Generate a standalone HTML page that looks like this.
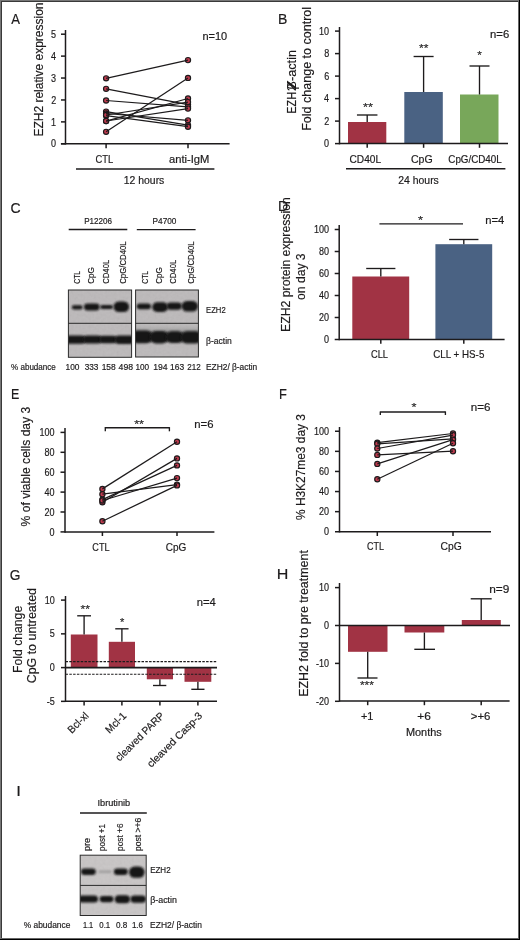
<!DOCTYPE html>
<html><head><meta charset="utf-8"><style>
html,body{margin:0;padding:0;background:#fff;}
svg{display:block;will-change:transform;}
text{font-family:"Liberation Sans",sans-serif;stroke:#1d1b1c;stroke-width:0.18px;}
</style></head>
<body>
<svg width="520" height="940" viewBox="0 0 520 940">
<defs>
<filter id="bl" x="-30%" y="-60%" width="160%" height="220%"><feGaussianBlur stdDeviation="0.85"/></filter>
<linearGradient id="smear" x1="0" y1="0" x2="0" y2="1"><stop offset="0" stop-color="#c6c6c6" stop-opacity="0"/><stop offset="1" stop-color="#777" stop-opacity="0.8"/></linearGradient>
<filter id="nz" x="0" y="0" width="100%" height="100%"><feTurbulence type="fractalNoise" baseFrequency="0.35" numOctaves="2" seed="3"/><feColorMatrix type="saturate" values="0"/></filter>
<pattern id="noise" width="520" height="940" patternUnits="userSpaceOnUse"><rect width="520" height="940" filter="url(#nz)"/></pattern>
</defs>
<rect width="520" height="940" fill="#fff"/>
<text transform="translate(11.30,23.50) scale(0.8440,1)" font-size="15.5" fill="#1d1b1c" >A</text>
<text transform="translate(42.60,136.56) rotate(-90) scale(0.9036,1)" font-size="13.3" fill="#1d1b1c" >EZH2 relative expression</text>
<line x1="65.50" y1="30.00" x2="65.50" y2="144.55" stroke="#1d1b1c" stroke-width="1.5" />
<line x1="61.00" y1="143.80" x2="65.50" y2="143.80" stroke="#1d1b1c" stroke-width="1.5" />
<text transform="translate(51.00,147.48) scale(0.8600,1)" font-size="10.5" fill="#1d1b1c" >0</text>
<line x1="61.00" y1="121.88" x2="65.50" y2="121.88" stroke="#1d1b1c" stroke-width="1.5" />
<text transform="translate(51.09,125.50) scale(0.8600,1)" font-size="10.5" fill="#1d1b1c" >1</text>
<line x1="61.00" y1="99.96" x2="65.50" y2="99.96" stroke="#1d1b1c" stroke-width="1.5" />
<text transform="translate(51.14,103.64) scale(0.8600,1)" font-size="10.5" fill="#1d1b1c" >2</text>
<line x1="61.00" y1="78.04" x2="65.50" y2="78.04" stroke="#1d1b1c" stroke-width="1.5" />
<text transform="translate(51.05,81.72) scale(0.8600,1)" font-size="10.5" fill="#1d1b1c" >3</text>
<line x1="61.00" y1="56.12" x2="65.50" y2="56.12" stroke="#1d1b1c" stroke-width="1.5" />
<text transform="translate(50.96,59.74) scale(0.8600,1)" font-size="10.5" fill="#1d1b1c" >4</text>
<line x1="61.00" y1="34.20" x2="65.50" y2="34.20" stroke="#1d1b1c" stroke-width="1.5" />
<text transform="translate(51.05,37.82) scale(0.8600,1)" font-size="10.5" fill="#1d1b1c" >5</text>
<line x1="60.90" y1="143.80" x2="229.60" y2="143.80" stroke="#1d1b1c" stroke-width="1.5" />
<line x1="106.10" y1="143.80" x2="106.10" y2="148.20" stroke="#1d1b1c" stroke-width="1.5" />
<line x1="188.00" y1="143.80" x2="188.00" y2="148.20" stroke="#1d1b1c" stroke-width="1.5" />
<circle cx="106.10" cy="78.30" r="2.6" fill="#bf3a4e" stroke="#1d1b1c" stroke-width="1.15"/>
<circle cx="188.00" cy="60.10" r="2.6" fill="#bf3a4e" stroke="#1d1b1c" stroke-width="1.15"/>
<circle cx="106.10" cy="131.80" r="2.6" fill="#bf3a4e" stroke="#1d1b1c" stroke-width="1.15"/>
<circle cx="188.00" cy="77.90" r="2.6" fill="#bf3a4e" stroke="#1d1b1c" stroke-width="1.15"/>
<circle cx="106.10" cy="88.80" r="2.6" fill="#bf3a4e" stroke="#1d1b1c" stroke-width="1.15"/>
<circle cx="188.00" cy="104.60" r="2.6" fill="#bf3a4e" stroke="#1d1b1c" stroke-width="1.15"/>
<circle cx="106.10" cy="100.50" r="2.6" fill="#bf3a4e" stroke="#1d1b1c" stroke-width="1.15"/>
<circle cx="188.00" cy="106.80" r="2.6" fill="#bf3a4e" stroke="#1d1b1c" stroke-width="1.15"/>
<circle cx="106.10" cy="121.10" r="2.6" fill="#bf3a4e" stroke="#1d1b1c" stroke-width="1.15"/>
<circle cx="188.00" cy="98.50" r="2.6" fill="#bf3a4e" stroke="#1d1b1c" stroke-width="1.15"/>
<circle cx="106.10" cy="111.60" r="2.6" fill="#bf3a4e" stroke="#1d1b1c" stroke-width="1.15"/>
<circle cx="188.00" cy="125.10" r="2.6" fill="#bf3a4e" stroke="#1d1b1c" stroke-width="1.15"/>
<circle cx="106.10" cy="115.60" r="2.6" fill="#bf3a4e" stroke="#1d1b1c" stroke-width="1.15"/>
<circle cx="188.00" cy="126.70" r="2.6" fill="#bf3a4e" stroke="#1d1b1c" stroke-width="1.15"/>
<circle cx="106.10" cy="113.50" r="2.6" fill="#bf3a4e" stroke="#1d1b1c" stroke-width="1.15"/>
<circle cx="188.00" cy="120.30" r="2.6" fill="#bf3a4e" stroke="#1d1b1c" stroke-width="1.15"/>
<circle cx="106.10" cy="115.00" r="2.6" fill="#bf3a4e" stroke="#1d1b1c" stroke-width="1.15"/>
<circle cx="188.00" cy="102.10" r="2.6" fill="#bf3a4e" stroke="#1d1b1c" stroke-width="1.15"/>
<circle cx="106.10" cy="121.00" r="2.6" fill="#bf3a4e" stroke="#1d1b1c" stroke-width="1.15"/>
<circle cx="188.00" cy="108.60" r="2.6" fill="#bf3a4e" stroke="#1d1b1c" stroke-width="1.15"/>
<line x1="106.10" y1="78.30" x2="188.00" y2="60.10" stroke="#1d1b1c" stroke-width="1.25" />
<line x1="106.10" y1="131.80" x2="188.00" y2="77.90" stroke="#1d1b1c" stroke-width="1.25" />
<line x1="106.10" y1="88.80" x2="188.00" y2="104.60" stroke="#1d1b1c" stroke-width="1.25" />
<line x1="106.10" y1="100.50" x2="188.00" y2="106.80" stroke="#1d1b1c" stroke-width="1.25" />
<line x1="106.10" y1="121.10" x2="188.00" y2="98.50" stroke="#1d1b1c" stroke-width="1.25" />
<line x1="106.10" y1="111.60" x2="188.00" y2="125.10" stroke="#1d1b1c" stroke-width="1.25" />
<line x1="106.10" y1="115.60" x2="188.00" y2="126.70" stroke="#1d1b1c" stroke-width="1.25" />
<line x1="106.10" y1="113.50" x2="188.00" y2="120.30" stroke="#1d1b1c" stroke-width="1.25" />
<line x1="106.10" y1="115.00" x2="188.00" y2="102.10" stroke="#1d1b1c" stroke-width="1.25" />
<line x1="106.10" y1="121.00" x2="188.00" y2="108.60" stroke="#1d1b1c" stroke-width="1.25" />
<text transform="translate(202.39,39.60) scale(1.0762,1)" font-size="10.2" fill="#1d1b1c" >n=10</text>
<text transform="translate(95.43,162.80) scale(0.9208,1)" font-size="10.2" fill="#1d1b1c" >CTL</text>
<text transform="translate(168.95,162.80) scale(1.0984,1)" font-size="10.2" fill="#1d1b1c" >anti-IgM</text>
<line x1="76.00" y1="169.00" x2="214.40" y2="169.00" stroke="#1d1b1c" stroke-width="1.5" />
<text transform="translate(123.72,183.80) scale(1.0245,1)" font-size="10.2" fill="#1d1b1c" >12 hours</text>
<text transform="translate(278.08,23.50) scale(0.9044,1)" font-size="15.5" fill="#1d1b1c" >B</text>
<g>
<text transform="translate(296.00,113.67) rotate(-90) scale(0.8319,1)" font-size="13.0" fill="#1d1b1c" >EZH</text>
<text transform="translate(296.00,91.13) rotate(-90) scale(1.1158,1)" font-size="13.0" fill="#1d1b1c" style="stroke-width:0">2</text>
<text transform="translate(296.00,89.65) rotate(-90) scale(1.1580,1)" font-size="13.0" fill="#1d1b1c" style="stroke-width:0">β</text>
<text transform="translate(296.00,89.40) rotate(-90) scale(2.5000,1)" font-size="13.0" fill="#1d1b1c" style="stroke-width:0">/</text>
<text transform="translate(296.00,81.07) rotate(-90) scale(0.9784,1)" font-size="13.0" fill="#1d1b1c" >-actin</text>
</g>
<text transform="translate(310.90,130.80) rotate(-90) scale(0.9276,1)" font-size="13.5" fill="#1d1b1c" >Fold change to control</text>
<line x1="339.50" y1="27.00" x2="339.50" y2="144.35" stroke="#1d1b1c" stroke-width="1.5" />
<line x1="335.00" y1="143.60" x2="339.50" y2="143.60" stroke="#1d1b1c" stroke-width="1.5" />
<text transform="translate(324.10,147.28) scale(0.8600,1)" font-size="10.5" fill="#1d1b1c" >0</text>
<line x1="335.00" y1="121.10" x2="339.50" y2="121.10" stroke="#1d1b1c" stroke-width="1.5" />
<text transform="translate(324.24,124.77) scale(0.8600,1)" font-size="10.5" fill="#1d1b1c" >2</text>
<line x1="335.00" y1="98.60" x2="339.50" y2="98.60" stroke="#1d1b1c" stroke-width="1.5" />
<text transform="translate(324.06,102.22) scale(0.8600,1)" font-size="10.5" fill="#1d1b1c" >4</text>
<line x1="335.00" y1="76.10" x2="339.50" y2="76.10" stroke="#1d1b1c" stroke-width="1.5" />
<text transform="translate(324.15,79.77) scale(0.8600,1)" font-size="10.5" fill="#1d1b1c" >6</text>
<line x1="335.00" y1="53.60" x2="339.50" y2="53.60" stroke="#1d1b1c" stroke-width="1.5" />
<text transform="translate(324.15,57.27) scale(0.8600,1)" font-size="10.5" fill="#1d1b1c" >8</text>
<line x1="335.00" y1="31.10" x2="339.50" y2="31.10" stroke="#1d1b1c" stroke-width="1.5" />
<text transform="translate(319.09,34.77) scale(0.8600,1)" font-size="10.5" fill="#1d1b1c" >10</text>
<rect x="348.00" y="122.00" width="38.30" height="21.60" fill="#a13344"/>
<rect x="404.30" y="92.00" width="38.50" height="51.60" fill="#4a6283"/>
<rect x="460.00" y="94.50" width="38.50" height="49.10" fill="#78a75a"/>
<line x1="367.20" y1="122.00" x2="367.20" y2="115.00" stroke="#1d1b1c" stroke-width="1.35" />
<line x1="356.95" y1="115.00" x2="377.45" y2="115.00" stroke="#1d1b1c" stroke-width="1.35" />
<line x1="423.60" y1="92.00" x2="423.60" y2="56.50" stroke="#1d1b1c" stroke-width="1.35" />
<line x1="413.60" y1="56.50" x2="433.60" y2="56.50" stroke="#1d1b1c" stroke-width="1.35" />
<line x1="479.50" y1="94.50" x2="479.50" y2="66.00" stroke="#1d1b1c" stroke-width="1.35" />
<line x1="469.50" y1="66.00" x2="489.50" y2="66.00" stroke="#1d1b1c" stroke-width="1.35" />
<line x1="339.50" y1="143.60" x2="508.00" y2="143.60" stroke="#1d1b1c" stroke-width="1.5" />
<line x1="367.20" y1="143.60" x2="367.20" y2="147.80" stroke="#1d1b1c" stroke-width="1.5" />
<line x1="423.60" y1="143.60" x2="423.60" y2="147.80" stroke="#1d1b1c" stroke-width="1.5" />
<line x1="479.50" y1="143.60" x2="479.50" y2="147.80" stroke="#1d1b1c" stroke-width="1.5" />
<text transform="translate(362.96,110.65) scale(1.2667,1)" font-size="10" fill="#333" stroke="#333">**</text>
<text transform="translate(419.02,52.05) scale(1.2000,1)" font-size="10" fill="#333" stroke="#333">**</text>
<text transform="translate(477.32,59.35) scale(1.1667,1)" font-size="10" fill="#333" stroke="#333">*</text>
<text transform="translate(490.06,37.50) scale(1.1099,1)" font-size="10.2" fill="#1d1b1c" >n=6</text>
<text transform="translate(349.49,162.50) scale(0.9966,1)" font-size="10.2" fill="#1d1b1c" >CD40L</text>
<text transform="translate(410.97,162.50) scale(1.0387,1)" font-size="10.2" fill="#1d1b1c" >CpG</text>
<text transform="translate(448.31,162.50) scale(0.9630,1)" font-size="10.2" fill="#1d1b1c" >CpG/CD40L</text>
<line x1="346.00" y1="168.80" x2="505.40" y2="168.80" stroke="#1d1b1c" stroke-width="1.5" />
<text transform="translate(398.28,183.80) scale(1.0229,1)" font-size="10.2" fill="#1d1b1c" >24 hours</text>
<text transform="translate(10.60,213.00) scale(0.9042,1)" font-size="15.5" fill="#1d1b1c" >C</text>
<text transform="translate(84.15,224.00) scale(0.8989,1)" font-size="9.0" fill="#1d1b1c" >P12206</text>
<line x1="68.70" y1="229.50" x2="127.30" y2="229.50" stroke="#1d1b1c" stroke-width="1.35" />
<text transform="translate(152.54,224.00) scale(0.9209,1)" font-size="9.0" fill="#1d1b1c" >P4700</text>
<line x1="136.80" y1="229.60" x2="195.60" y2="229.60" stroke="#1d1b1c" stroke-width="1.35" />
<text transform="translate(79.90,283.74) rotate(-90) scale(0.7722,1)" font-size="8.8" fill="#1d1b1c" >CTL</text>
<text transform="translate(93.80,283.80) rotate(-90) scale(0.9161,1)" font-size="8.8" fill="#1d1b1c" >CpG</text>
<text transform="translate(109.20,283.79) rotate(-90) scale(0.8776,1)" font-size="8.8" fill="#1d1b1c" >CD40L</text>
<text transform="translate(125.50,283.79) rotate(-90) scale(0.8875,1)" font-size="8.8" fill="#1d1b1c" >CpG/CD40L</text>
<text transform="translate(147.90,283.74) rotate(-90) scale(0.7722,1)" font-size="8.8" fill="#1d1b1c" >CTL</text>
<text transform="translate(161.50,283.80) rotate(-90) scale(0.9161,1)" font-size="8.8" fill="#1d1b1c" >CpG</text>
<text transform="translate(176.20,283.79) rotate(-90) scale(0.8776,1)" font-size="8.8" fill="#1d1b1c" >CD40L</text>
<text transform="translate(193.50,283.79) rotate(-90) scale(0.8875,1)" font-size="8.8" fill="#1d1b1c" >CpG/CD40L</text>
<text transform="translate(206.09,313.10) scale(0.8919,1)" font-size="8.6" fill="#1d1b1c" >EZH2</text>
<text transform="translate(206.10,343.60) scale(0.9915,1)" font-size="8.6" fill="#1d1b1c" >β-actin</text>
<text transform="translate(11.02,369.80) scale(0.9379,1)" font-size="8.6" fill="#1d1b1c" >% abudance</text>
<text transform="translate(65.57,370.10) scale(0.9721,1)" font-size="8.6" fill="#1d1b1c" >100</text>
<text transform="translate(84.67,370.10) scale(0.9610,1)" font-size="8.6" fill="#1d1b1c" >333</text>
<text transform="translate(101.67,370.10) scale(0.9827,1)" font-size="8.6" fill="#1d1b1c" >158</text>
<text transform="translate(118.53,370.10) scale(1.0143,1)" font-size="8.6" fill="#1d1b1c" >498</text>
<text transform="translate(135.38,370.10) scale(0.9572,1)" font-size="8.6" fill="#1d1b1c" >100</text>
<text transform="translate(153.15,370.10) scale(1.0063,1)" font-size="8.6" fill="#1d1b1c" >194</text>
<text transform="translate(170.07,370.10) scale(0.9827,1)" font-size="8.6" fill="#1d1b1c" >163</text>
<text transform="translate(187.30,370.10) scale(0.9362,1)" font-size="8.6" fill="#1d1b1c" >212</text>
<text transform="translate(206.03,370.10) scale(0.9734,1)" font-size="8.6" fill="#1d1b1c" >EZH2/ β-actin</text>
<text transform="translate(277.88,211.20) scale(0.9000,1)" font-size="15.5" fill="#1d1b1c" >D</text>
<text transform="translate(289.90,331.88) rotate(-90) scale(0.9133,1)" font-size="13.4" fill="#1d1b1c" >EZH2 protein expression</text>
<text transform="translate(304.60,299.99) rotate(-90) scale(0.9082,1)" font-size="13.4" fill="#1d1b1c" >on day 3</text>
<line x1="339.20" y1="225.00" x2="339.20" y2="340.25" stroke="#1d1b1c" stroke-width="1.5" />
<line x1="334.70" y1="339.50" x2="339.20" y2="339.50" stroke="#1d1b1c" stroke-width="1.5" />
<text transform="translate(324.00,343.18) scale(0.8600,1)" font-size="10.5" fill="#1d1b1c" >0</text>
<line x1="334.70" y1="317.50" x2="339.20" y2="317.50" stroke="#1d1b1c" stroke-width="1.5" />
<text transform="translate(318.99,321.18) scale(0.8600,1)" font-size="10.5" fill="#1d1b1c" >20</text>
<line x1="334.70" y1="295.50" x2="339.20" y2="295.50" stroke="#1d1b1c" stroke-width="1.5" />
<text transform="translate(318.99,299.18) scale(0.8600,1)" font-size="10.5" fill="#1d1b1c" >40</text>
<line x1="334.70" y1="273.50" x2="339.20" y2="273.50" stroke="#1d1b1c" stroke-width="1.5" />
<text transform="translate(318.99,277.18) scale(0.8600,1)" font-size="10.5" fill="#1d1b1c" >60</text>
<line x1="334.70" y1="251.50" x2="339.20" y2="251.50" stroke="#1d1b1c" stroke-width="1.5" />
<text transform="translate(318.99,255.18) scale(0.8600,1)" font-size="10.5" fill="#1d1b1c" >80</text>
<line x1="334.70" y1="229.50" x2="339.20" y2="229.50" stroke="#1d1b1c" stroke-width="1.5" />
<text transform="translate(313.98,233.18) scale(0.8600,1)" font-size="10.5" fill="#1d1b1c" >100</text>
<rect x="352.30" y="276.50" width="56.90" height="63.00" fill="#a13344"/>
<rect x="435.40" y="244.20" width="56.80" height="95.30" fill="#4a6283"/>
<line x1="380.80" y1="276.50" x2="380.80" y2="268.50" stroke="#1d1b1c" stroke-width="1.35" />
<line x1="366.20" y1="268.50" x2="395.40" y2="268.50" stroke="#1d1b1c" stroke-width="1.35" />
<line x1="463.80" y1="244.20" x2="463.80" y2="239.50" stroke="#1d1b1c" stroke-width="1.35" />
<line x1="449.15" y1="239.50" x2="478.45" y2="239.50" stroke="#1d1b1c" stroke-width="1.35" />
<line x1="339.20" y1="339.50" x2="504.60" y2="339.50" stroke="#1d1b1c" stroke-width="1.5" />
<line x1="380.80" y1="339.50" x2="380.80" y2="343.80" stroke="#1d1b1c" stroke-width="1.5" />
<line x1="463.80" y1="339.50" x2="463.80" y2="343.80" stroke="#1d1b1c" stroke-width="1.5" />
<line x1="379.40" y1="223.90" x2="463.00" y2="223.90" stroke="#1d1b1c" stroke-width="1.35" />
<text transform="translate(417.91,223.65) scale(1.2778,1)" font-size="10" fill="#333" stroke="#333">*</text>
<text transform="translate(485.27,224.30) scale(1.1029,1)" font-size="10.2" fill="#1d1b1c" >n=4</text>
<text transform="translate(370.94,357.70) scale(0.9106,1)" font-size="10.2" fill="#1d1b1c" >CLL</text>
<text transform="translate(433.31,357.70) scale(0.9603,1)" font-size="10.2" fill="#1d1b1c" >CLL + HS-5</text>
<text transform="translate(11.00,399.30) scale(0.8050,1)" font-size="15.5" fill="#1d1b1c" >E</text>
<text transform="translate(29.90,526.42) rotate(-90) scale(0.9165,1)" font-size="13.2" fill="#1d1b1c" >% of viable cells day 3</text>
<line x1="65.00" y1="428.00" x2="65.00" y2="532.65" stroke="#1d1b1c" stroke-width="1.5" />
<line x1="60.50" y1="531.90" x2="65.00" y2="531.90" stroke="#1d1b1c" stroke-width="1.5" />
<text transform="translate(49.60,535.57) scale(0.8600,1)" font-size="10.5" fill="#1d1b1c" >0</text>
<line x1="60.50" y1="512.00" x2="65.00" y2="512.00" stroke="#1d1b1c" stroke-width="1.5" />
<text transform="translate(44.59,515.67) scale(0.8600,1)" font-size="10.5" fill="#1d1b1c" >20</text>
<line x1="60.50" y1="492.10" x2="65.00" y2="492.10" stroke="#1d1b1c" stroke-width="1.5" />
<text transform="translate(44.59,495.77) scale(0.8600,1)" font-size="10.5" fill="#1d1b1c" >40</text>
<line x1="60.50" y1="472.20" x2="65.00" y2="472.20" stroke="#1d1b1c" stroke-width="1.5" />
<text transform="translate(44.59,475.88) scale(0.8600,1)" font-size="10.5" fill="#1d1b1c" >60</text>
<line x1="60.50" y1="452.30" x2="65.00" y2="452.30" stroke="#1d1b1c" stroke-width="1.5" />
<text transform="translate(44.59,455.97) scale(0.8600,1)" font-size="10.5" fill="#1d1b1c" >80</text>
<line x1="60.50" y1="432.40" x2="65.00" y2="432.40" stroke="#1d1b1c" stroke-width="1.5" />
<text transform="translate(39.58,436.07) scale(0.8600,1)" font-size="10.5" fill="#1d1b1c" >100</text>
<line x1="65.00" y1="531.90" x2="214.40" y2="531.90" stroke="#1d1b1c" stroke-width="1.5" />
<line x1="102.40" y1="531.90" x2="102.40" y2="536.00" stroke="#1d1b1c" stroke-width="1.5" />
<line x1="177.00" y1="531.90" x2="177.00" y2="536.00" stroke="#1d1b1c" stroke-width="1.5" />
<circle cx="102.40" cy="488.90" r="2.6" fill="#bf3a4e" stroke="#1d1b1c" stroke-width="1.15"/>
<circle cx="177.00" cy="441.70" r="2.6" fill="#bf3a4e" stroke="#1d1b1c" stroke-width="1.15"/>
<circle cx="102.40" cy="502.30" r="2.6" fill="#bf3a4e" stroke="#1d1b1c" stroke-width="1.15"/>
<circle cx="177.00" cy="458.40" r="2.6" fill="#bf3a4e" stroke="#1d1b1c" stroke-width="1.15"/>
<circle cx="102.40" cy="499.60" r="2.6" fill="#bf3a4e" stroke="#1d1b1c" stroke-width="1.15"/>
<circle cx="177.00" cy="465.40" r="2.6" fill="#bf3a4e" stroke="#1d1b1c" stroke-width="1.15"/>
<circle cx="102.40" cy="494.20" r="2.6" fill="#bf3a4e" stroke="#1d1b1c" stroke-width="1.15"/>
<circle cx="177.00" cy="484.60" r="2.6" fill="#bf3a4e" stroke="#1d1b1c" stroke-width="1.15"/>
<circle cx="102.40" cy="500.50" r="2.6" fill="#bf3a4e" stroke="#1d1b1c" stroke-width="1.15"/>
<circle cx="177.00" cy="478.10" r="2.6" fill="#bf3a4e" stroke="#1d1b1c" stroke-width="1.15"/>
<circle cx="102.40" cy="521.20" r="2.6" fill="#bf3a4e" stroke="#1d1b1c" stroke-width="1.15"/>
<circle cx="177.00" cy="485.40" r="2.6" fill="#bf3a4e" stroke="#1d1b1c" stroke-width="1.15"/>
<line x1="102.40" y1="488.90" x2="177.00" y2="441.70" stroke="#1d1b1c" stroke-width="1.25" />
<line x1="102.40" y1="502.30" x2="177.00" y2="458.40" stroke="#1d1b1c" stroke-width="1.25" />
<line x1="102.40" y1="499.60" x2="177.00" y2="465.40" stroke="#1d1b1c" stroke-width="1.25" />
<line x1="102.40" y1="494.20" x2="177.00" y2="484.60" stroke="#1d1b1c" stroke-width="1.25" />
<line x1="102.40" y1="500.50" x2="177.00" y2="478.10" stroke="#1d1b1c" stroke-width="1.25" />
<line x1="102.40" y1="521.20" x2="177.00" y2="485.40" stroke="#1d1b1c" stroke-width="1.25" />
<line x1="105.30" y1="427.70" x2="169.40" y2="427.70" stroke="#1d1b1c" stroke-width="1.35" />
<line x1="105.30" y1="427.10" x2="105.30" y2="431.30" stroke="#1d1b1c" stroke-width="1.35" />
<line x1="169.40" y1="427.10" x2="169.40" y2="431.30" stroke="#1d1b1c" stroke-width="1.35" />
<text transform="translate(134.21,427.95) scale(1.2533,1)" font-size="10" fill="#333" stroke="#333">**</text>
<text transform="translate(194.26,428.00) scale(1.1099,1)" font-size="10.2" fill="#1d1b1c" >n=6</text>
<text transform="translate(92.34,550.50) scale(0.8937,1)" font-size="10.2" fill="#1d1b1c" >CTL</text>
<text transform="translate(165.70,550.50) scale(0.9829,1)" font-size="10.2" fill="#1d1b1c" >CpG</text>
<text transform="translate(278.97,398.60) scale(0.8295,1)" font-size="15.5" fill="#1d1b1c" >F</text>
<text transform="translate(304.60,520.02) rotate(-90) scale(0.9036,1)" font-size="13.2" fill="#1d1b1c" >% H3K27me3 day 3</text>
<line x1="339.50" y1="427.00" x2="339.50" y2="532.50" stroke="#1d1b1c" stroke-width="1.5" />
<line x1="335.00" y1="531.75" x2="339.50" y2="531.75" stroke="#1d1b1c" stroke-width="1.5" />
<text transform="translate(324.10,535.42) scale(0.8600,1)" font-size="10.5" fill="#1d1b1c" >0</text>
<line x1="335.00" y1="511.65" x2="339.50" y2="511.65" stroke="#1d1b1c" stroke-width="1.5" />
<text transform="translate(319.09,515.32) scale(0.8600,1)" font-size="10.5" fill="#1d1b1c" >20</text>
<line x1="335.00" y1="491.55" x2="339.50" y2="491.55" stroke="#1d1b1c" stroke-width="1.5" />
<text transform="translate(319.09,495.23) scale(0.8600,1)" font-size="10.5" fill="#1d1b1c" >40</text>
<line x1="335.00" y1="471.45" x2="339.50" y2="471.45" stroke="#1d1b1c" stroke-width="1.5" />
<text transform="translate(319.09,475.12) scale(0.8600,1)" font-size="10.5" fill="#1d1b1c" >60</text>
<line x1="335.00" y1="451.35" x2="339.50" y2="451.35" stroke="#1d1b1c" stroke-width="1.5" />
<text transform="translate(319.09,455.03) scale(0.8600,1)" font-size="10.5" fill="#1d1b1c" >80</text>
<line x1="335.00" y1="431.25" x2="339.50" y2="431.25" stroke="#1d1b1c" stroke-width="1.5" />
<text transform="translate(314.08,434.93) scale(0.8600,1)" font-size="10.5" fill="#1d1b1c" >100</text>
<line x1="339.50" y1="531.75" x2="491.00" y2="531.75" stroke="#1d1b1c" stroke-width="1.5" />
<line x1="377.30" y1="531.75" x2="377.30" y2="536.00" stroke="#1d1b1c" stroke-width="1.5" />
<line x1="453.00" y1="531.75" x2="453.00" y2="536.00" stroke="#1d1b1c" stroke-width="1.5" />
<circle cx="377.30" cy="442.70" r="2.6" fill="#bf3a4e" stroke="#1d1b1c" stroke-width="1.15"/>
<circle cx="453.00" cy="433.50" r="2.6" fill="#bf3a4e" stroke="#1d1b1c" stroke-width="1.15"/>
<circle cx="377.30" cy="443.80" r="2.6" fill="#bf3a4e" stroke="#1d1b1c" stroke-width="1.15"/>
<circle cx="453.00" cy="438.80" r="2.6" fill="#bf3a4e" stroke="#1d1b1c" stroke-width="1.15"/>
<circle cx="377.30" cy="448.50" r="2.6" fill="#bf3a4e" stroke="#1d1b1c" stroke-width="1.15"/>
<circle cx="453.00" cy="435.10" r="2.6" fill="#bf3a4e" stroke="#1d1b1c" stroke-width="1.15"/>
<circle cx="377.30" cy="454.90" r="2.6" fill="#bf3a4e" stroke="#1d1b1c" stroke-width="1.15"/>
<circle cx="453.00" cy="451.20" r="2.6" fill="#bf3a4e" stroke="#1d1b1c" stroke-width="1.15"/>
<circle cx="377.30" cy="463.90" r="2.6" fill="#bf3a4e" stroke="#1d1b1c" stroke-width="1.15"/>
<circle cx="453.00" cy="439.70" r="2.6" fill="#bf3a4e" stroke="#1d1b1c" stroke-width="1.15"/>
<circle cx="377.30" cy="479.20" r="2.6" fill="#bf3a4e" stroke="#1d1b1c" stroke-width="1.15"/>
<circle cx="453.00" cy="443.20" r="2.6" fill="#bf3a4e" stroke="#1d1b1c" stroke-width="1.15"/>
<line x1="377.30" y1="442.70" x2="453.00" y2="433.50" stroke="#1d1b1c" stroke-width="1.25" />
<line x1="377.30" y1="443.80" x2="453.00" y2="438.80" stroke="#1d1b1c" stroke-width="1.25" />
<line x1="377.30" y1="448.50" x2="453.00" y2="435.10" stroke="#1d1b1c" stroke-width="1.25" />
<line x1="377.30" y1="454.90" x2="453.00" y2="451.20" stroke="#1d1b1c" stroke-width="1.25" />
<line x1="377.30" y1="463.90" x2="453.00" y2="439.70" stroke="#1d1b1c" stroke-width="1.25" />
<line x1="377.30" y1="479.20" x2="453.00" y2="443.20" stroke="#1d1b1c" stroke-width="1.25" />
<line x1="380.30" y1="412.00" x2="445.40" y2="412.00" stroke="#1d1b1c" stroke-width="1.35" />
<line x1="380.30" y1="411.40" x2="380.30" y2="415.00" stroke="#1d1b1c" stroke-width="1.35" />
<line x1="445.40" y1="411.40" x2="445.40" y2="415.00" stroke="#1d1b1c" stroke-width="1.35" />
<text transform="translate(411.41,410.65) scale(1.2778,1)" font-size="10" fill="#333" stroke="#333">*</text>
<text transform="translate(470.74,411.20) scale(1.1407,1)" font-size="10.2" fill="#1d1b1c" >n=6</text>
<text transform="translate(367.05,550.00) scale(0.8829,1)" font-size="10.2" fill="#1d1b1c" >CTL</text>
<text transform="translate(440.48,550.00) scale(1.0133,1)" font-size="10.2" fill="#1d1b1c" >CpG</text>
<text transform="translate(9.81,579.80) scale(0.8865,1)" font-size="15.5" fill="#1d1b1c" >G</text>
<text transform="translate(21.80,672.98) rotate(-90) scale(0.9251,1)" font-size="13.2" fill="#1d1b1c" >Fold change</text>
<text transform="translate(36.20,683.32) rotate(-90) scale(0.9416,1)" font-size="13.2" fill="#1d1b1c" >CpG to untreated</text>
<line x1="65.50" y1="596.00" x2="65.50" y2="702.00" stroke="#1d1b1c" stroke-width="1.5" />
<line x1="61.00" y1="600.10" x2="65.50" y2="600.10" stroke="#1d1b1c" stroke-width="1.5" />
<text transform="translate(44.79,603.77) scale(0.8600,1)" font-size="10.5" fill="#1d1b1c" >10</text>
<line x1="61.00" y1="633.85" x2="65.50" y2="633.85" stroke="#1d1b1c" stroke-width="1.5" />
<text transform="translate(49.85,637.47) scale(0.8600,1)" font-size="10.5" fill="#1d1b1c" >5</text>
<line x1="61.00" y1="667.60" x2="65.50" y2="667.60" stroke="#1d1b1c" stroke-width="1.5" />
<text transform="translate(49.80,671.27) scale(0.8600,1)" font-size="10.5" fill="#1d1b1c" >0</text>
<line x1="61.00" y1="701.35" x2="65.50" y2="701.35" stroke="#1d1b1c" stroke-width="1.5" />
<text transform="translate(46.82,704.97) scale(0.8600,1)" font-size="10.5" fill="#1d1b1c" >-5</text>
<rect x="70.80" y="634.50" width="26.70" height="33.10" fill="#a13344"/>
<rect x="108.80" y="641.80" width="26.20" height="25.80" fill="#a13344"/>
<rect x="146.80" y="667.60" width="26.20" height="11.70" fill="#a13344"/>
<rect x="184.50" y="667.60" width="26.80" height="14.20" fill="#a13344"/>
<line x1="84.10" y1="634.50" x2="84.10" y2="615.80" stroke="#1d1b1c" stroke-width="1.35" />
<line x1="77.20" y1="615.80" x2="91.00" y2="615.80" stroke="#1d1b1c" stroke-width="1.35" />
<line x1="121.90" y1="641.80" x2="121.90" y2="628.80" stroke="#1d1b1c" stroke-width="1.35" />
<line x1="115.25" y1="628.80" x2="128.55" y2="628.80" stroke="#1d1b1c" stroke-width="1.35" />
<line x1="159.90" y1="679.30" x2="159.90" y2="685.50" stroke="#1d1b1c" stroke-width="1.35" />
<line x1="153.00" y1="685.50" x2="166.30" y2="685.50" stroke="#1d1b1c" stroke-width="1.35" />
<line x1="197.90" y1="681.80" x2="197.90" y2="689.30" stroke="#1d1b1c" stroke-width="1.35" />
<line x1="191.30" y1="689.30" x2="204.50" y2="689.30" stroke="#1d1b1c" stroke-width="1.35" />
<line x1="65.50" y1="667.60" x2="217.00" y2="667.60" stroke="#1d1b1c" stroke-width="1.6" />
<line x1="65.50" y1="661.60" x2="217.00" y2="661.60" stroke="#1d1b1c" stroke-width="1.1" stroke-dasharray="2.5,1.3"/>
<line x1="65.50" y1="674.30" x2="217.00" y2="674.30" stroke="#1d1b1c" stroke-width="1.1" stroke-dasharray="2.5,1.3"/>
<line x1="65.50" y1="701.25" x2="217.00" y2="701.25" stroke="#1d1b1c" stroke-width="1.5" />
<line x1="84.10" y1="701.25" x2="84.10" y2="705.50" stroke="#1d1b1c" stroke-width="1.5" />
<line x1="121.90" y1="701.25" x2="121.90" y2="705.50" stroke="#1d1b1c" stroke-width="1.5" />
<line x1="159.90" y1="701.25" x2="159.90" y2="705.50" stroke="#1d1b1c" stroke-width="1.5" />
<line x1="197.90" y1="701.25" x2="197.90" y2="705.50" stroke="#1d1b1c" stroke-width="1.5" />
<text transform="translate(80.62,613.25) scale(1.2000,1)" font-size="10" fill="#333" stroke="#333">**</text>
<text transform="translate(119.93,626.45) scale(1.1111,1)" font-size="10" fill="#333" stroke="#333">*</text>
<text transform="translate(196.77,605.60) scale(1.1029,1)" font-size="10.2" fill="#1d1b1c" >n=4</text>
<text transform="translate(88.80,716.80) rotate(-45) scale(0.9700,1) translate(-24.94,0)" font-size="10.5" fill="#1d1b1c">Bcl-xl</text>
<text transform="translate(126.60,716.80) rotate(-45) scale(0.9600,1) translate(-25.20,0)" font-size="10.5" fill="#1d1b1c">Mcl-1</text>
<text transform="translate(164.60,716.80) rotate(-45) scale(0.9600,1) translate(-66.36,0)" font-size="10.5" fill="#1d1b1c">cleaved PARP</text>
<text transform="translate(202.60,716.80) rotate(-45) scale(1.0000,1) translate(-72.50,0)" font-size="10.5" fill="#1d1b1c">cleaved Casp-3</text>
<text transform="translate(276.71,579.30) scale(1.0369,1)" font-size="15.5" fill="#1d1b1c" >H</text>
<text transform="translate(307.70,696.80) rotate(-90) scale(0.9367,1)" font-size="13.3" fill="#1d1b1c" >EZH2 fold to pre treatment</text>
<line x1="339.50" y1="583.00" x2="339.50" y2="701.75" stroke="#1d1b1c" stroke-width="1.5" />
<line x1="335.00" y1="587.60" x2="339.50" y2="587.60" stroke="#1d1b1c" stroke-width="1.5" />
<text transform="translate(319.09,591.27) scale(0.8600,1)" font-size="10.5" fill="#1d1b1c" >10</text>
<line x1="335.00" y1="625.50" x2="339.50" y2="625.50" stroke="#1d1b1c" stroke-width="1.5" />
<text transform="translate(324.10,629.17) scale(0.8600,1)" font-size="10.5" fill="#1d1b1c" >0</text>
<line x1="335.00" y1="663.40" x2="339.50" y2="663.40" stroke="#1d1b1c" stroke-width="1.5" />
<text transform="translate(316.07,667.07) scale(0.8600,1)" font-size="10.5" fill="#1d1b1c" >-10</text>
<line x1="335.00" y1="701.30" x2="339.50" y2="701.30" stroke="#1d1b1c" stroke-width="1.5" />
<text transform="translate(316.07,704.97) scale(0.8600,1)" font-size="10.5" fill="#1d1b1c" >-20</text>
<rect x="348.00" y="625.50" width="39.50" height="26.30" fill="#a13344"/>
<rect x="404.50" y="625.50" width="39.80" height="7.00" fill="#a13344"/>
<rect x="461.80" y="620.00" width="39.00" height="5.50" fill="#a13344"/>
<line x1="367.70" y1="651.80" x2="367.70" y2="678.00" stroke="#1d1b1c" stroke-width="1.35" />
<line x1="357.50" y1="678.00" x2="377.50" y2="678.00" stroke="#1d1b1c" stroke-width="1.35" />
<line x1="424.40" y1="632.50" x2="424.40" y2="649.30" stroke="#1d1b1c" stroke-width="1.35" />
<line x1="414.30" y1="649.30" x2="435.00" y2="649.30" stroke="#1d1b1c" stroke-width="1.35" />
<line x1="481.20" y1="620.00" x2="481.20" y2="598.80" stroke="#1d1b1c" stroke-width="1.35" />
<line x1="470.70" y1="598.80" x2="491.70" y2="598.80" stroke="#1d1b1c" stroke-width="1.35" />
<line x1="339.50" y1="625.50" x2="510.00" y2="625.50" stroke="#1d1b1c" stroke-width="1.6" />
<line x1="339.50" y1="701.00" x2="509.60" y2="701.00" stroke="#1d1b1c" stroke-width="1.5" />
<line x1="367.70" y1="701.00" x2="367.70" y2="705.20" stroke="#1d1b1c" stroke-width="1.5" />
<line x1="424.40" y1="701.00" x2="424.40" y2="705.20" stroke="#1d1b1c" stroke-width="1.5" />
<line x1="481.20" y1="701.00" x2="481.20" y2="705.20" stroke="#1d1b1c" stroke-width="1.5" />
<text transform="translate(359.97,689.15) scale(1.1842,1)" font-size="10" fill="#333" stroke="#333">***</text>
<text transform="translate(489.23,593.20) scale(1.1629,1)" font-size="10.2" fill="#1d1b1c" >n=9</text>
<text transform="translate(360.95,719.60) scale(1.0695,1)" font-size="10.2" fill="#1d1b1c" >+1</text>
<text transform="translate(417.20,719.60) scale(1.1671,1)" font-size="10.2" fill="#1d1b1c" >+6</text>
<text transform="translate(470.73,719.60) scale(1.1213,1)" font-size="10.2" fill="#1d1b1c" >&gt;+6</text>
<text transform="translate(405.93,735.90) scale(1.0718,1)" font-size="10.2" fill="#1d1b1c" >Months</text>
<text transform="translate(16.28,795.80) scale(1.1008,1)" font-size="15.3" fill="#1d1b1c" >I</text>
<text transform="translate(97.47,806.10) scale(1.0694,1)" font-size="8.6" fill="#1d1b1c" >Ibrutinib</text>
<line x1="80.00" y1="813.00" x2="146.80" y2="813.00" stroke="#1d1b1c" stroke-width="1.35" />
<text transform="translate(89.70,850.99) rotate(-90) scale(1.0626,1)" font-size="8.6" fill="#1d1b1c" >pre</text>
<text transform="translate(104.50,850.93) rotate(-90) scale(0.9462,1)" font-size="8.6" fill="#1d1b1c" >post +1</text>
<text transform="translate(123.30,850.94) rotate(-90) scale(0.9666,1)" font-size="8.6" fill="#1d1b1c" >post +6</text>
<text transform="translate(141.30,850.95) rotate(-90) scale(0.9923,1)" font-size="8.6" fill="#1d1b1c" >post &gt;+6</text>
<text transform="translate(150.16,873.00) scale(0.9302,1)" font-size="8.6" fill="#1d1b1c" >EZH2</text>
<text transform="translate(150.18,902.60) scale(1.0318,1)" font-size="8.6" fill="#1d1b1c" >β-actin</text>
<text transform="translate(23.71,928.00) scale(0.9761,1)" font-size="8.6" fill="#1d1b1c" >% abudance</text>
<text transform="translate(82.94,928.00) scale(0.8606,1)" font-size="8.6" fill="#1d1b1c" >1.1</text>
<text transform="translate(99.29,928.00) scale(0.9088,1)" font-size="8.6" fill="#1d1b1c" >0.1</text>
<text transform="translate(115.97,928.00) scale(0.9498,1)" font-size="8.6" fill="#1d1b1c" >0.8</text>
<text transform="translate(131.90,928.00) scale(0.9302,1)" font-size="8.6" fill="#1d1b1c" >1.6</text>
<text transform="translate(150.12,928.00) scale(0.9831,1)" font-size="8.6" fill="#1d1b1c" >EZH2/ β-actin</text>
<clipPath id="cb1"><rect x="68.40" y="290.00" width="63.20" height="67.30"/></clipPath>
<g clip-path="url(#cb1)">
<rect x="68.40" y="290.00" width="63.20" height="67.30" fill="#bcb9ba"/>
<rect x="68.40" y="290.00" width="63.20" height="67.30" fill="url(#noise)" opacity="0.12"/>

<rect x="71.80" y="305.30" width="10.80" height="4.10" rx="2.05" fill="#151515" opacity="1.0" filter="url(#bl)"/>
<rect x="84.00" y="303.50" width="15.60" height="6.90" rx="3.45" fill="#151515" opacity="1.0" filter="url(#bl)"/>
<rect x="100.20" y="304.90" width="12.80" height="4.20" rx="2.10" fill="#151515" opacity="1.0" filter="url(#bl)"/>
<rect x="113.50" y="301.50" width="15.60" height="10.60" rx="5.30" fill="#151515" opacity="1.0" filter="url(#bl)"/>
<rect x="64.00" y="335.50" width="22.00" height="8.30" rx="4.15" fill="#151515" opacity="1.0" filter="url(#bl)"/>
<rect x="83.00" y="335.40" width="19.00" height="8.10" rx="4.05" fill="#151515" opacity="1.0" filter="url(#bl)"/>
<rect x="99.30" y="335.80" width="17.70" height="7.50" rx="3.75" fill="#151515" opacity="1.0" filter="url(#bl)"/>
<rect x="114.50" y="335.60" width="20.50" height="8.30" rx="4.15" fill="#151515" opacity="1.0" filter="url(#bl)"/>
</g>
<rect x="68.40" y="290.00" width="63.20" height="67.30" fill="none" stroke="#2a2a2a" stroke-width="1"/>
<line x1="68.40" y1="323.30" x2="131.60" y2="323.30" stroke="#2a2a2a" stroke-width="1.0" />
<clipPath id="cb2"><rect x="135.60" y="290.00" width="62.80" height="67.00"/></clipPath>
<g clip-path="url(#cb2)">
<rect x="135.60" y="290.00" width="62.80" height="67.00" fill="#bcb9ba"/>
<rect x="135.60" y="290.00" width="62.80" height="67.00" fill="url(#noise)" opacity="0.12"/>
<rect x="135" y="322" width="64" height="12" fill="url(#smear)"/>
<rect x="136.70" y="303.40" width="14.30" height="5.80" rx="2.90" fill="#151515" opacity="1.0" filter="url(#bl)"/>
<rect x="152.20" y="302.20" width="15.80" height="9.80" rx="4.90" fill="#151515" opacity="1.0" filter="url(#bl)"/>
<rect x="166.60" y="302.40" width="15.20" height="7.40" rx="3.70" fill="#151515" opacity="1.0" filter="url(#bl)"/>
<rect x="181.60" y="300.90" width="16.40" height="10.60" rx="5.30" fill="#151515" opacity="1.0" filter="url(#bl)"/>
<rect x="131.00" y="330.60" width="22.00" height="12.60" rx="6.30" fill="#151515" opacity="1.0" filter="url(#bl)"/>
<rect x="149.50" y="331.00" width="19.50" height="12.40" rx="6.20" fill="#151515" opacity="1.0" filter="url(#bl)"/>
<rect x="165.50" y="331.30" width="18.50" height="11.80" rx="5.90" fill="#151515" opacity="1.0" filter="url(#bl)"/>
<rect x="180.50" y="331.20" width="21.50" height="12.40" rx="6.20" fill="#151515" opacity="1.0" filter="url(#bl)"/>
</g>
<rect x="135.60" y="290.00" width="62.80" height="67.00" fill="none" stroke="#2a2a2a" stroke-width="1"/>
<line x1="135.60" y1="323.30" x2="198.40" y2="323.30" stroke="#2a2a2a" stroke-width="1.0" />
<clipPath id="cb3"><rect x="80.20" y="855.20" width="66.00" height="60.30"/></clipPath>
<g clip-path="url(#cb3)">
<rect x="80.20" y="855.20" width="66.00" height="60.30" fill="#c8c5c5"/>
<rect x="80.20" y="855.20" width="66.00" height="60.30" fill="url(#noise)" opacity="0.12"/>

<rect x="81.00" y="868.60" width="14.80" height="6.30" rx="3.15" fill="#151515" opacity="1.0" filter="url(#bl)"/>
<rect x="98.30" y="870.40" width="13.40" height="2.60" rx="1.30" fill="#555" opacity="0.35" filter="url(#bl)"/>
<rect x="113.90" y="868.60" width="13.90" height="6.30" rx="3.15" fill="#151515" opacity="1.0" filter="url(#bl)"/>
<rect x="129.00" y="866.60" width="15.60" height="11.20" rx="5.60" fill="#151515" opacity="1.0" filter="url(#bl)"/>
<rect x="78.00" y="895.60" width="20.00" height="7.00" rx="3.50" fill="#151515" opacity="1.0" filter="url(#bl)"/>
<rect x="99.60" y="896.00" width="14.00" height="6.20" rx="3.10" fill="#151515" opacity="1.0" filter="url(#bl)"/>
<rect x="114.80" y="895.20" width="15.20" height="8.00" rx="4.00" fill="#151515" opacity="1.0" filter="url(#bl)"/>
<rect x="130.40" y="895.40" width="15.60" height="7.40" rx="3.70" fill="#151515" opacity="1.0" filter="url(#bl)"/>
</g>
<rect x="80.20" y="855.20" width="66.00" height="60.30" fill="none" stroke="#2a2a2a" stroke-width="1"/>
<line x1="80.20" y1="885.40" x2="146.20" y2="885.40" stroke="#2a2a2a" stroke-width="1.0" />
<rect x="0" y="0" width="520" height="1" fill="#777"/>
<rect x="0" y="0" width="1" height="940" fill="#777"/>
<rect x="1" y="1" width="518" height="1" fill="#3a3a3a"/>
<rect x="1" y="1" width="1" height="938" fill="#3a3a3a"/>
<rect x="518" y="1" width="1" height="938" fill="#666"/>
<rect x="519" y="0" width="1" height="940" fill="#000"/>
<rect x="1" y="938" width="518" height="1" fill="#666"/>
<rect x="0" y="939" width="520" height="1" fill="#000"/>
</svg>
</body></html>
